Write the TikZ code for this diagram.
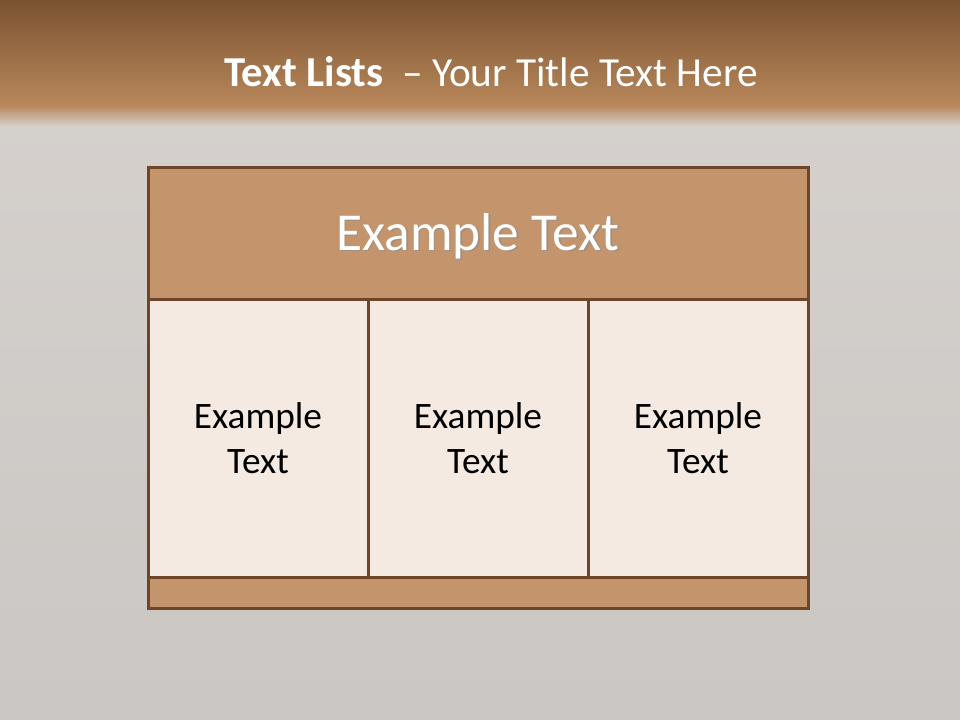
\documentclass[tikz,border=0pt]{standalone}
\usepackage{fontspec}
\setmainfont{Carlito}
\definecolor{bgA}{HTML}{D5D0CC}
\definecolor{bgB}{HTML}{CAC7C4}
\definecolor{bandTop}{HTML}{7A5230}
\definecolor{bandBot}{HTML}{B9885B}
\definecolor{edge}{HTML}{6E4526}
\definecolor{hdrfill}{HTML}{C4956D}
\definecolor{cellfill}{HTML}{F4EAE2}
\begin{document}
\begin{tikzpicture}[x=0.75pt,y=-0.75pt,
  box/.style={draw=edge,line width=2.25pt,rectangle,inner sep=0pt,align=center},
  hdrbox/.style={box,fill=hdrfill,text=white,font=\fontsize{40}{48}\selectfont},
  cellbox/.style={box,fill=cellfill,text=black,font=\fontsize{28}{33.6}\selectfont},
  titletext/.style={text=white,inner sep=0pt}]
\useasboundingbox (0,0) rectangle (960,720);
% background
\shade[top color=bgA,bottom color=bgB] (0,110) rectangle (960,720);
\shade[top color=bandTop,bottom color=bandBot] (0,0) rectangle (960,106);
\shade[top color=bandBot,bottom color=bgA] (0,105.5) rectangle (960,126);
% title
\node[titletext,anchor=base] (title) at (491,87)
  {\fontsize{31}{37}\selectfont\textbf{\fontsize{32}{37}\selectfont Text Lists}\ \ – Your Title Text Here};
% table
\node[hdrbox,minimum width=495pt,minimum height=99pt] (hdr) at (478,234) {};
\node[text=black!45,font=\fontsize{40}{48}\selectfont,opacity=0.6] (hdrshadow) at ([xshift=1.2pt,yshift=-2.7pt]hdr.center) {Example Text};
\node[text=white,font=\fontsize{40}{48}\selectfont] (hdrtext) at ([yshift=-1.5pt]hdr.center) {Example Text};
\node[cellbox,minimum width=165pt,minimum height=207.75pt] (c1) at (258,438.5) {Example\\Text};
\node[cellbox,minimum width=165pt,minimum height=207.75pt] (c2) at (478,438.5) {Example\\Text};
\node[cellbox,minimum width=165pt,minimum height=207.75pt] (c3) at (698,438.5) {Example\\Text};
\node[box,fill=hdrfill,minimum width=495pt,minimum height=23.25pt] (foot) at (478,592.5) {};
\end{tikzpicture}
\end{document}
